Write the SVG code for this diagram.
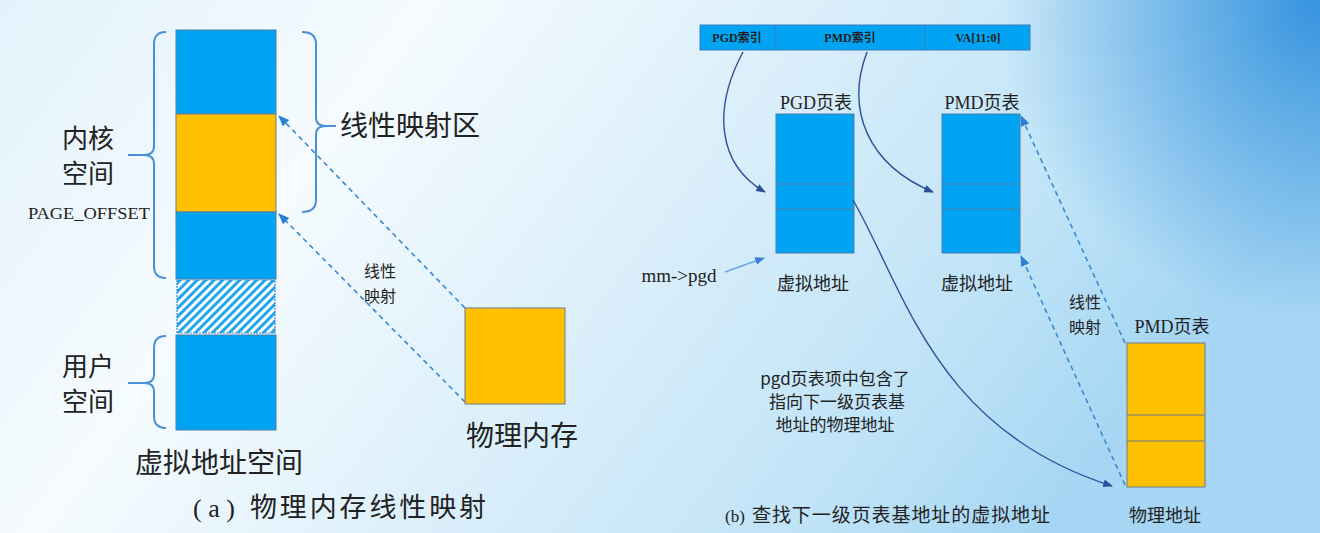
<svg xmlns="http://www.w3.org/2000/svg" width="1320" height="533" viewBox="0 0 1320 533">
<defs>
<linearGradient id="bg" x1="0" y1="0" x2="1" y2="0.3">
<stop offset="0" stop-color="#e3f2fb"/>
<stop offset="0.3" stop-color="#f5fbfe"/>
<stop offset="0.6" stop-color="#d8eefa"/>
<stop offset="0.85" stop-color="#bde2f7"/>
<stop offset="1" stop-color="#a6d6f3"/>
</linearGradient>
<radialGradient id="corner" cx="1320" cy="0" r="320" gradientUnits="userSpaceOnUse">
<stop offset="0" stop-color="#1f86da" stop-opacity="0.85"/>
<stop offset="1" stop-color="#1f86da" stop-opacity="0"/>
</radialGradient>
<pattern id="hatch" width="6" height="6" patternUnits="userSpaceOnUse" patternTransform="rotate(45)">
<rect width="6" height="6" fill="#ffffff"/>
<rect width="3" height="6" fill="#22a6ea"/>
</pattern>
<marker id="ad" viewBox="0 0 10 10" refX="9" refY="5" markerWidth="7" markerHeight="7" orient="auto">
<path d="M0,1 L10,5 L0,9 z" fill="#2d7fcf"/>
</marker>
<marker id="an" viewBox="0 0 10 10" refX="9" refY="5" markerWidth="7" markerHeight="7" orient="auto">
<path d="M0,1 L10,5 L0,9 z" fill="#2c4f9c"/>
</marker>
<marker id="al" viewBox="0 0 10 10" refX="9" refY="5" markerWidth="7" markerHeight="7" orient="auto">
<path d="M0,1 L10,5 L0,9 z" fill="#3b7fd6"/>
</marker>
</defs>
<style>
.b{fill:#00a4f2;stroke:#4a7ea8;stroke-width:1}
.y{fill:#ffc000;stroke:#6b7c8c;stroke-width:1}
.br{fill:none;stroke:#4a90d6;stroke-width:2}
.dash{fill:none;stroke:#3a8ad2;stroke-width:1.6;stroke-dasharray:5,4}
.cur{fill:none;stroke:#2c4f9c;stroke-width:1.4}
.t{font-family:"Noto Sans CJK SC","Noto Sans",sans-serif;fill:#222}
.s{font-family:"Liberation Serif","Noto Sans CJK SC",serif;fill:#222}
</style>
<rect width="1320" height="533" fill="url(#bg)"/>
<rect width="1320" height="533" fill="url(#corner)"/>

<g id="vspace">
<rect class="b" x="176" y="30" width="100" height="84"/>
<rect class="y" x="176" y="114" width="100" height="98"/>
<rect class="b" x="176" y="212" width="100" height="67"/>
<rect x="177" y="280" width="98" height="53" fill="url(#hatch)" stroke="#3a8ad2" stroke-width="1.2" stroke-dasharray="2,1"/>
<rect class="b" x="176" y="335" width="100" height="95"/>
<text class="t" x="219" y="473" font-size="28" text-anchor="middle">虚拟地址空间</text>
</g>

<g id="kernel-brace">
<path class="br" d="M166,32 Q154,32 154,44 L154,146 Q154,155 144,155 Q154,155 154,164 L154,266 Q154,278 166,278"/>
<line class="br" x1="128" y1="155" x2="144" y2="155"/>
<text class="t" x="88" y="148" font-size="26" text-anchor="middle">内核</text>
<text class="t" x="88" y="183" font-size="26" text-anchor="middle">空间</text>
<text class="s" x="89" y="219" font-size="16" text-anchor="middle" textLength="122" lengthAdjust="spacingAndGlyphs">PAGE_OFFSET</text>
</g>

<g id="user-brace">
<path class="br" d="M166,336 Q154,336 154,348 L154,375 Q154,383 144,383 Q154,383 154,391 L154,416 Q154,428 166,428"/>
<line class="br" x1="128" y1="383" x2="144" y2="383"/>
<text class="t" x="88" y="376" font-size="26" text-anchor="middle">用户</text>
<text class="t" x="88" y="411" font-size="26" text-anchor="middle">空间</text>
</g>

<g id="linear-brace">
<path class="br" d="M302,32 Q316,32 316,44 L316,118 Q316,126 326,126 Q316,126 316,134 L316,200 Q316,212 302,212"/>
<line class="br" x1="326" y1="126" x2="336" y2="126"/>
<text class="t" x="340" y="136" font-size="28">线性映射区</text>
</g>

<g id="pmem">
<rect class="y" x="465" y="308" width="100" height="96"/>
<text class="t" x="522" y="446" font-size="28" text-anchor="middle">物理内存</text>
</g>

<g id="bar">
<rect x="700" y="25" width="330" height="25" fill="#00a4f2" stroke="#3a7cbf" stroke-width="1"/>
<line x1="775" y1="25" x2="775" y2="50" stroke="#3a7cbf"/>
<line x1="925" y1="25" x2="925" y2="50" stroke="#3a7cbf"/>
<text class="s" x="737" y="42" font-size="12" text-anchor="middle" font-weight="bold" fill="#333">PGD索引</text>
<text class="s" x="850" y="42" font-size="12" text-anchor="middle" font-weight="bold" fill="#333">PMD索引</text>
<text class="s" x="978" y="42" font-size="12" text-anchor="middle" font-weight="bold" fill="#333">VA[11:0]</text>
</g>

<g id="pgd">
<text class="s" x="816" y="109" font-size="18" text-anchor="middle">PGD页表</text>
<rect class="b" x="776" y="114" width="78" height="139"/>
<line x1="776" y1="184" x2="854" y2="184" stroke="#4a7ea8"/>
<line x1="776" y1="209" x2="854" y2="209" stroke="#4a7ea8"/>
<text class="t" x="813" y="290" font-size="18" text-anchor="middle">虚拟地址</text>
</g>

<g id="pmd">
<text class="s" x="982" y="109" font-size="18" text-anchor="middle">PMD页表</text>
<rect class="b" x="942" y="114" width="78" height="139"/>
<line x1="942" y1="184" x2="1020" y2="184" stroke="#4a7ea8"/>
<line x1="942" y1="209" x2="1020" y2="209" stroke="#4a7ea8"/>
<text class="t" x="977" y="290" font-size="18" text-anchor="middle">虚拟地址</text>
</g>

<g id="pmd-phys">
<text class="s" x="1172" y="333" font-size="18" text-anchor="middle">PMD页表</text>
<rect class="y" x="1127" y="343" width="78" height="144"/>
<line x1="1127" y1="415" x2="1205" y2="415" stroke="#6b7c8c"/>
<line x1="1127" y1="441" x2="1205" y2="441" stroke="#6b7c8c"/>
<text class="t" x="1165" y="522" font-size="18" text-anchor="middle">物理地址</text>
</g>

<g id="labels">
<text class="t" x="380" y="277" font-size="16" text-anchor="middle">线性</text>
<text class="t" x="380" y="302" font-size="16" text-anchor="middle">映射</text>
<text class="s" x="679" y="282" font-size="19" text-anchor="middle">mm-&gt;pgd</text>
<text class="t" x="1085" y="308" font-size="16" text-anchor="middle">线性</text>
<text class="t" x="1085" y="333" font-size="16" text-anchor="middle">映射</text>
<text class="t" x="835" y="385" font-size="17" text-anchor="middle">pgd页表项中包含了</text>
<text class="t" x="837" y="408" font-size="17" text-anchor="middle">指向下一级页表基</text>
<text class="t" x="835" y="431" font-size="17" text-anchor="middle">地址的物理地址</text>
<text class="s" x="193" y="517" font-size="26" textLength="42" lengthAdjust="spacing">(a)</text>
<text class="t" x="250" y="517" font-size="27" textLength="236" lengthAdjust="spacing">物理内存线性映射</text>
<text class="s" x="725" y="522" font-size="17">(b)</text>
<text class="t" x="752" y="522" font-size="19" textLength="298" lengthAdjust="spacing">查找下一级页表基地址的虚拟地址</text>
</g>

<g id="connectors">
<line class="dash" x1="465" y1="308" x2="279" y2="116" marker-end="url(#ad)"/>
<line class="dash" x1="465" y1="402" x2="279" y2="214" marker-end="url(#ad)"/>
<line x1="725" y1="272" x2="764" y2="258" stroke="#6aa6e0" stroke-width="1.4" marker-end="url(#al)"/>
<path class="cur" d="M743,52 C712,110 718,165 765,192" marker-end="url(#an)"/>
<path class="cur" d="M867,52 C845,110 868,165 933,192" marker-end="url(#an)"/>
<path class="cur" d="M853,200 C905,290 935,430 1112,486" marker-end="url(#an)"/>
<line class="dash" x1="1125" y1="343" x2="1021" y2="116" marker-end="url(#ad)"/>
<line class="dash" x1="1125" y1="485" x2="1021" y2="256" marker-end="url(#ad)"/>
</g>
</svg>
